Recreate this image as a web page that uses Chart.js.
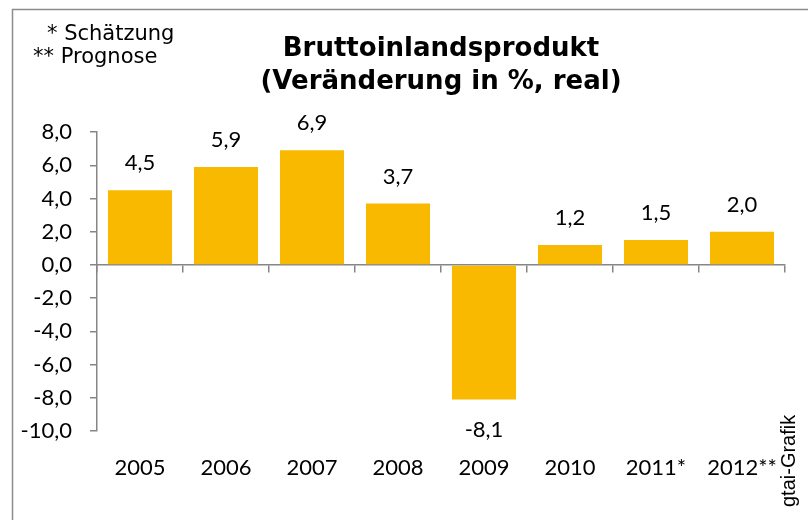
<!DOCTYPE html>
<html>
<head>
<meta charset="utf-8">
<script src="https://cdn.jsdelivr.net/npm/chart.js@4/dist/chart.umd.min.js"></script>
<style>
  html, body { margin: 0; padding: 0; background: #fff; }
  #wrap { width: 808px; height: 520px; }
</style>
</head>
<body>
<div id="wrap"><canvas id="bip"></canvas></div>
<script>
// Daten
var years = ["2005", "2006", "2007", "2008", "2009", "2010", "2011*", "2012**"];
var growth = [4.5, 5.9, 6.9, 3.7, -8.1, 1.2, 1.5, 2.0];
var titleLines = ["Bruttoinlandsprodukt", "(Veränderung in %, real)"];
var notes = ["* Schätzung", "** Prognose"];
var source = "gtai-Grafik";

var axisGray = "#868686";
var barColor = "#F9B900";

function deNum(v) {
    return v.toFixed(1).replace(".", ",");
}

/* Rahmen, Fussnoten, Quelle und Werte an den Balken */
var extras = {
    id: "extras",
    beforeDraw: function(chart) {
        var c = chart.ctx;
        c.save();
        c.strokeStyle = "#8c8c8c";
        c.lineWidth = 1.5;
        c.strokeRect(12.5, 9.5, 830, 540);
        c.restore();
    },
    afterDraw: function(chart) {
        var c = chart.ctx;
        c.save();
        c.fillStyle = "#000";
        c.font = "21px 'DejaVu Sans'";
        c.textBaseline = "alphabetic";
        c.textAlign = "left";
        c.fillText(notes[0], 47, 40);
        c.fillText(notes[1], 33, 63);

        // Werte
        c.font = "22px Lato";
        c.textAlign = "center";
        c.textBaseline = "middle";
        var meta = chart.getDatasetMeta(0);
        meta.data.forEach(function(bar, i) {
            var v = growth[i];
            var y = v >= 0 ? bar.y - 27 : bar.y + 30;
            c.fillText(deNum(v), bar.x, y);
        });

        // Quelle, gedreht
        c.font = "20px 'Liberation Sans'";
        c.translate(795, 507);
        c.rotate(-Math.PI / 2);
        c.textAlign = "left";
        c.textBaseline = "alphabetic";
        c.fillText(source, 0, 0);
        c.restore();
    }
};

new Chart(document.getElementById("bip"), {
    type: "bar",
    data: {
        labels: years,
        datasets: [{
            data: growth,
            backgroundColor: barColor,
            categoryPercentage: 1,
            barPercentage: 0.745,
        }]
    },
    options: {
        responsive: true,
        maintainAspectRatio: false,
        animation: false,
        layout: { padding: { left: 0, right: 23, top: 0, bottom: 0 } },
        plugins: {
            legend: { display: false },
            tooltip: { enabled: false },
            title: {
                display: true,
                fullSize: false,
                text: titleLines,
                color: "#000",
                font: { family: "'DejaVu Sans'", size: 26, weight: "bold", lineHeight: 1.27 },
                padding: { top: 33, bottom: 33 },
            },
        },
        scales: {
            x: {
                type: "category",
                position: { y: 0 },
                offset: true,
                ticks: { display: false },
                grid: { offset: true, drawOnChartArea: false, drawTicks: true, tickLength: 7, color: axisGray, lineWidth: 1.5 },
                border: { color: axisGray, width: 1.5 },
            },
            x2: {
                type: "category",
                position: "bottom",
                offset: true,
                grid: { display: false, drawTicks: false },
                border: { display: false },
                ticks: { color: "#000", font: { family: "Lato", size: 22 }, padding: 24, maxRotation: 0, autoSkip: false },
                afterFit: function(s) { s.height = 89; },
            },
            y: {
                min: -10,
                max: 8,
                ticks: {
                    stepSize: 2,
                    color: "#000",
                    padding: 18,
                    font: { family: "Lato", size: 22 },
                    callback: function(value) { return deNum(value); }
                },
                grid: { drawOnChartArea: false, drawTicks: true, tickLength: 7, color: axisGray, lineWidth: 1.5 },
                border: { color: axisGray, width: 1.5 },
                afterFit: function(s) { s.width = 97; },
            },
        },
    },
    plugins: [extras],
});
</script>
</body>
</html>
